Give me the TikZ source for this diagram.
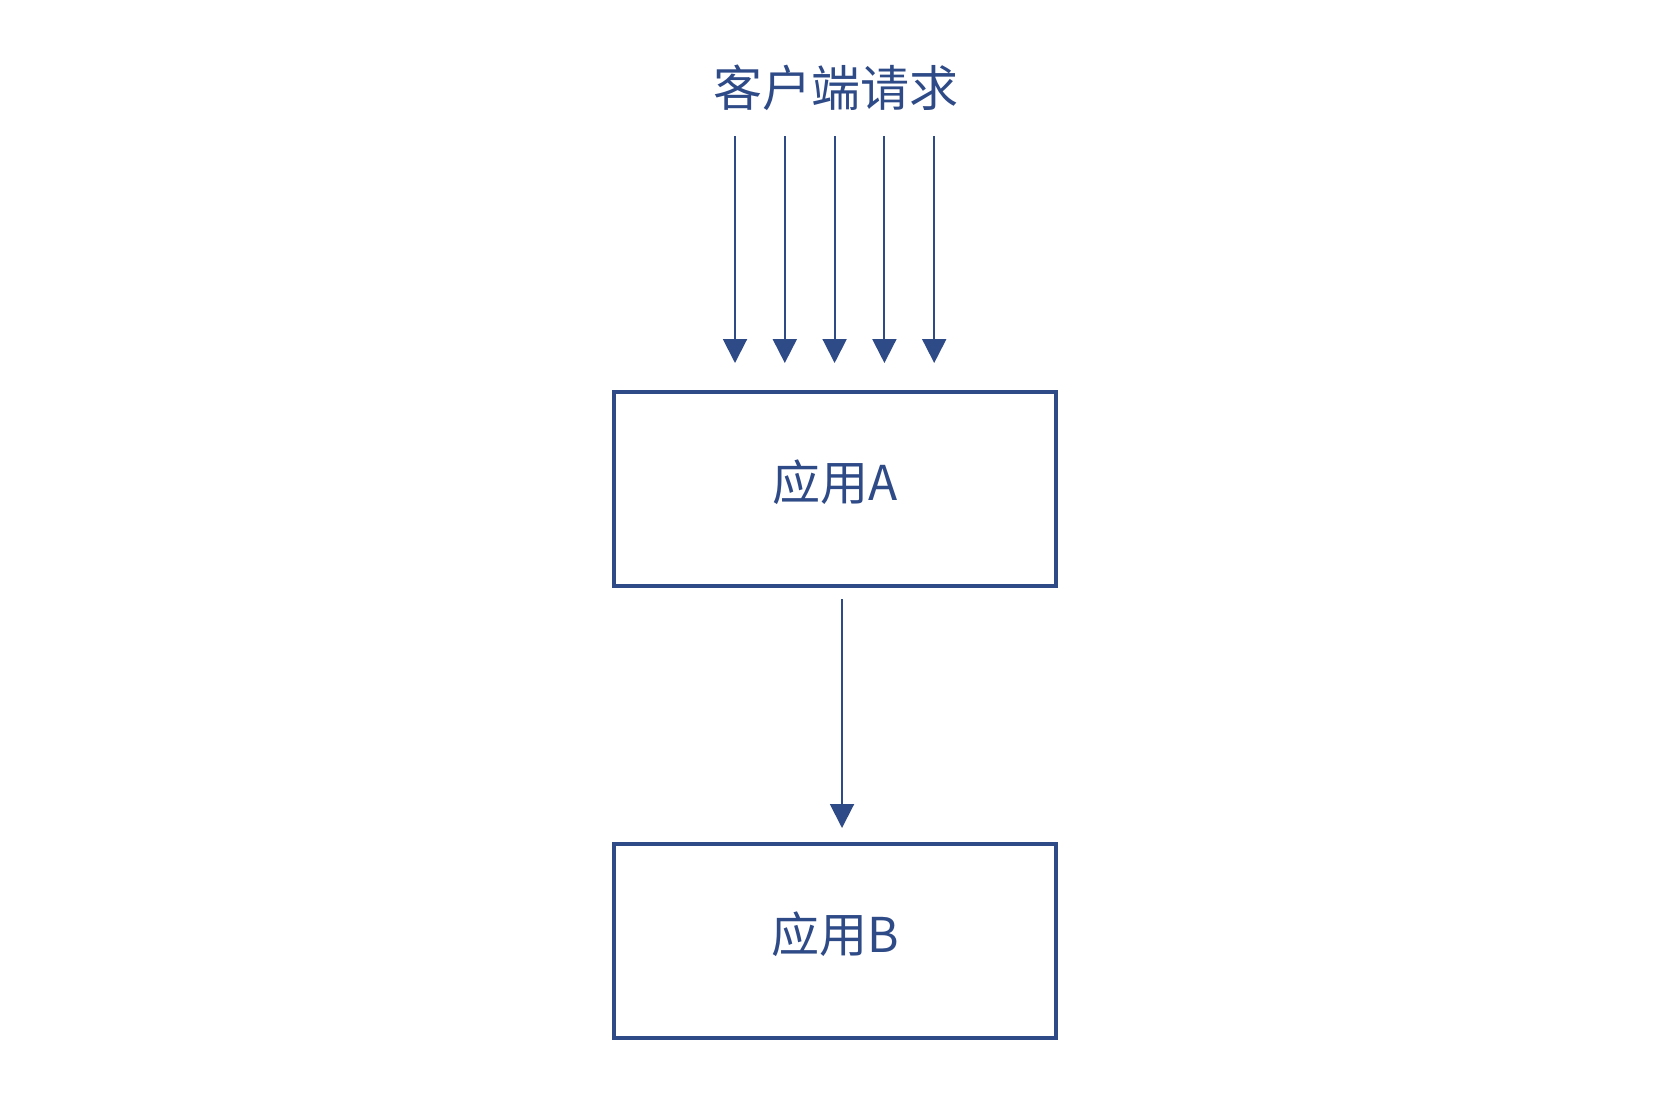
\documentclass[tikz,border=0pt]{standalone}
\usepackage{fontspec}
\setmainfont{Noto Sans CJK SC}
\usetikzlibrary{positioning}
\usetikzlibrary{arrows.meta}
\definecolor{lineblue}{RGB}{46,74,135}
\tikzset{
app/.style = {draw=lineblue, line width=4pt, fill=white, rectangle, inner sep=0pt,
  minimum width=442pt, minimum height=194pt, text height=23pt, text depth=0pt,
  text=lineblue, font=\fontsize{48}{52}\selectfont},
label/.style = {text=lineblue, inner sep=0pt, font=\fontsize{49}{53}\selectfont},
flow/.style = {draw=lineblue, line width=2pt, -{Triangle[width=24pt,length=24pt]}, color=lineblue}
}

\begin{document}
\begin{tikzpicture}[x=1pt, y=-1pt]
    \useasboundingbox (0,0) rectangle (1667,1111);
    % We start by placing the blocks
    \node [label] (req) at (836,88) {客户端请求};
    \node [app] (A) at (835,489) {应用A};
    \node [app] (B) at (835,941) {应用B};

    \foreach \i in {0,...,4} {
        \coordinate (t\i) at (735+49.8*\i,136);
        \draw [flow, shorten >=27pt] (t\i) -- (t\i |- A.north);
    }
    \draw [flow, shorten <=11pt, shorten >=14pt] ([xshift=7pt]A.south) -- ([xshift=7pt]B.north);
\end{tikzpicture}
\end{document}
